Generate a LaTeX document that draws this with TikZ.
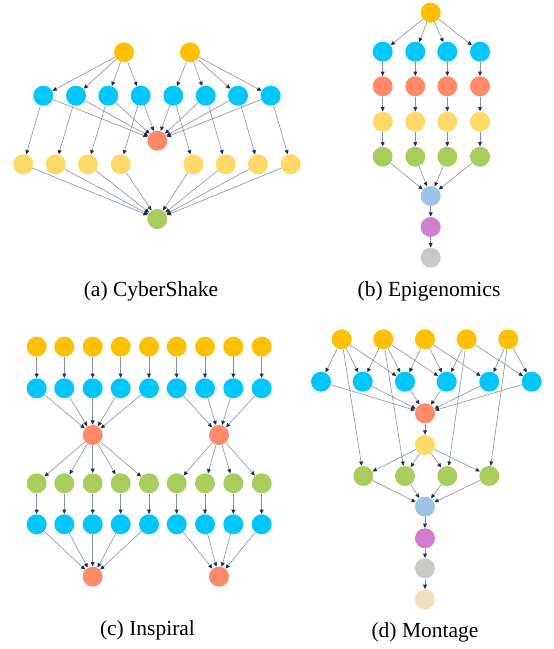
\documentclass[tikz,border=0pt]{standalone}
\usepackage{fontspec}
\setmainfont{Liberation Serif}
\usetikzlibrary{arrows.meta}
\definecolor{cOr}{HTML}{FFC000}
\definecolor{cBl}{HTML}{00C6FF}
\definecolor{cRe}{HTML}{FF8A6A}
\definecolor{cYe}{HTML}{FFD966}
\definecolor{cGr}{HTML}{A9CD5D}
\definecolor{cLb}{HTML}{9DC3E6}
\definecolor{cPu}{HTML}{D17ECF}
\definecolor{cGy}{HTML}{C9CAC8}
\definecolor{cBe}{HTML}{F4DEC0}
\definecolor{cLine}{HTML}{8590A8}
\definecolor{cTip}{HTML}{1B2A4E}
\tikzset{
  task/.style={circle,minimum size=20pt,inner sep=0pt,draw=none,fill=#1},
  edge/.style={draw=cLine,line width=0.6pt,-{Triangle[length=4.2pt,width=3.8pt,color=cTip]},shorten >=0.2pt},
  captxt/.style={font=\fontsize{21.5}{24}\selectfont,inner sep=0pt}
}
\begin{document}
\begin{tikzpicture}[x=1pt,y=-1pt]
\path[use as bounding box] (0,0) rectangle (554,649);
% ---------------- (a) CyberShake ----------------
\node[task=cOr] (cyO1) at (124,52.3) {};
\node[task=cOr] (cyO2) at (190,52.3) {};
\foreach \i/\x in {1/43.3,2/76,3/108.3,4/140.7,5/173.3,6/205.7,7/238,8/270.7}
  \node[task=cBl] (cyB\i) at (\x,95.7) {};
\node[task=cRe] (cyR) at (157.3,140.7) {};
\foreach \i/\x in {1/23.3,2/55.7,3/88,4/120.7,5/193.3,6/225.7,7/258,8/290.7}
  \node[task=cYe] (cyY\i) at (\x,164.3) {};
\node[task=cGr] (cyG) at (157.3,219) {};
\foreach \i in {1,2,3,4} \draw[edge] (cyO1) -- (cyB\i);
\foreach \i in {5,6,7,8} \draw[edge] (cyO2) -- (cyB\i);
\foreach \i in {1,...,8} {
  \draw[edge] (cyB\i) -- (cyR);
  \draw[edge] (cyB\i) -- (cyY\i);
  \draw[edge] (cyY\i) -- (cyG);
}
\node[captxt] (capA) at (151,291) {(a) CyberShake};
% ---------------- (b) Epigenomics ----------------
\node[task=cOr] (epO) at (430.7,12.7) {};
\foreach \i/\x in {1/382.7,2/415.3,3/447.3,4/480} {
  \node[task=cBl] (epB\i) at (\x,51.7) {};
  \node[task=cRe] (epR\i) at (\x,86.3) {};
  \node[task=cYe] (epY\i) at (\x,121.7) {};
  \node[task=cGr] (epG\i) at (\x,156.7) {};
}
\node[task=cLb] (epL) at (430.7,196) {};
\node[task=cPu] (epP) at (430.7,227) {};
\node[task=cGy] (epS) at (430.7,257.7) {};
\foreach \i in {1,...,4} {
  \draw[edge] (epO) -- (epB\i);
  \draw[edge] (epB\i) -- (epR\i);
  \draw[edge] (epR\i) -- (epY\i);
  \draw[edge] (epY\i) -- (epG\i);
  \draw[edge] (epG\i) -- (epL);
}
\draw[edge] (epL) -- (epP);
\draw[edge] (epP) -- (epS);
\node[captxt] (capB) at (429,291) {(b) Epigenomics};
% ---------------- (c) Inspiral ----------------
\foreach \i/\x in {1/36.7,2/64.3,3/92.7,4/120.7,5/149,6/176.7,7/205,8/233.3,9/261.7} {
  \node[task=cOr] (inO\i) at (\x,346.7) {};
  \node[task=cBl] (inB\i) at (\x,388.3) {};
  \node[task=cGr] (inG\i) at (\x,483.3) {};
  \node[task=cBl] (inC\i) at (\x,524.3) {};
}
\node[task=cRe] (inR1) at (92.7,435) {};
\node[task=cRe] (inR2) at (219,435) {};
\node[task=cRe] (inR3) at (92.7,576.7) {};
\node[task=cRe] (inR4) at (219,576.7) {};
\foreach \i in {1,...,9} {
  \draw[edge] (inO\i) -- (inB\i);
  \draw[edge] (inG\i) -- (inC\i);
}
\foreach \i in {1,...,5} {
  \draw[edge] (inB\i) -- (inR1);
  \draw[edge] (inR1) -- (inG\i);
  \draw[edge] (inC\i) -- (inR3);
}
\foreach \i in {6,...,9} {
  \draw[edge] (inB\i) -- (inR2);
  \draw[edge] (inR2) -- (inG\i);
  \draw[edge] (inC\i) -- (inR4);
}
\node[captxt] (capC) at (147.5,630) {(c) Inspiral};
% ---------------- (d) Montage ----------------
\foreach \i/\x in {1/341.7,2/383.3,3/425,4/466.7,5/508.3}
  \node[task=cOr] (moO\i) at (\x,339.3) {};
\foreach \i/\x in {1/321,2/362.7,3/405,4/446.7,5/489.3,6/531.7}
  \node[task=cBl] (moB\i) at (\x,381.7) {};
\node[task=cRe] (moR) at (425,413.3) {};
\node[task=cYe] (moY) at (425,445) {};
\foreach \i/\x in {1/363.3,2/405,3/447.3,4/489.3}
  \node[task=cGr] (moG\i) at (\x,476) {};
\node[task=cLb] (moL) at (425,506.7) {};
\node[task=cPu] (moP) at (425,538.3) {};
\node[task=cGy] (moS) at (425,568.3) {};
\node[task=cBe] (moJ) at (425,599.3) {};
\foreach \a/\b in {O1/B1,O1/B2,O1/B3,O1/G1,O2/B2,O2/B3,O2/B4,O2/G2,O3/B3,O3/B4,O3/B5,O4/B4,O4/B6,O4/G3,O5/B5,O5/B6,O5/G4}
  \draw[edge] (mo\a) -- (mo\b);
\foreach \i in {1,...,6} \draw[edge] (moB\i) -- (moR);
\draw[edge] (moR) -- (moY);
\foreach \i in {1,...,4} {
  \draw[edge] (moY) -- (moG\i);
  \draw[edge] (moG\i) -- (moL);
}
\draw[edge] (moL) -- (moP);
\draw[edge] (moP) -- (moS);
\draw[edge] (moS) -- (moJ);
\node[captxt] (capD) at (425,632) {(d) Montage};
\end{tikzpicture}
\end{document}
